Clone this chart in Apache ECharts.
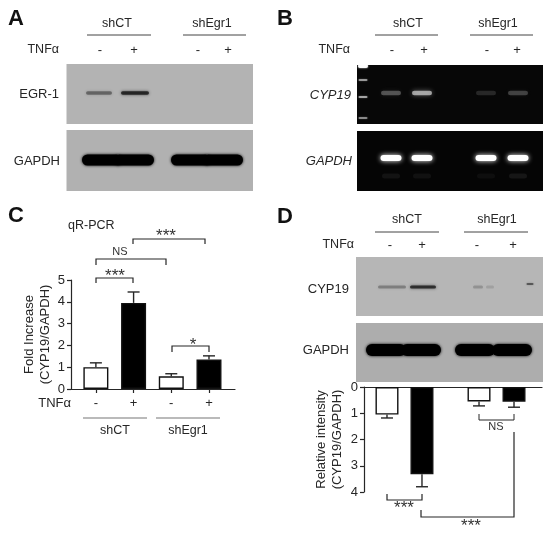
<!DOCTYPE html>
<html><head><meta charset="utf-8">
<style>html,body{margin:0;padding:0;background:#fff}#c{width:550px;height:536px}</style>
<script src="https://cdn.jsdelivr.net/npm/echarts@6/dist/echarts.min.js"></script>
</head><body><div id="c"></div>
<script>
// ---- data ----
const tnfSigns = ['-', '+', '-', '+'];
const groupNames = ['shCT', 'shEgr1'];
const qpcrMeans = [1.0, 3.95, 0.58, 1.35];
const qpcrErrTops = [1.2, 4.45, 0.7, 1.52];
const intensityMeans = [1.05, 3.32, 0.55, 0.56];
const intensityErrTops = [1.18, 3.8, 0.72, 0.77];
const barFills = ['#ffffff', '#000000', '#ffffff', '#000000'];
const qpcrSlots = [0, 1, 2, 3];
const intensitySlots = [0, 1, 2.63, 3.63];
// band strengths per lane (shCT -, shCT +, shEgr1 -, shEgr1 +)
const egr1Band = [0.42, 0.8, 0, 0];
const gapdhBandA = [1, 1, 1, 1];
const cyp19GelBand = [0.3, 0.62, 0.14, 0.24];
const gapdhGelBand = [1, 1, 1, 1];
const gapdhGelFaint = [0.06, 0.05, 0.04, 0.07];
const cyp19BlotBand = [0.3, 0.75, 0.2, 0.12];
const gapdhBandD = [1, 1, 1, 1];

// ---- layout ----
const INK = '#262626';
const FONT = '"Liberation Sans", Arial, sans-serif';
const panels = [
  {box:[66.5,64,253,124], bg:'#b3b3b3'},
  {box:[66.5,130,253,191], bg:'#b1b1b1'},
  {box:[357,65,543,124], bg:'#070707'},
  {box:[357,131,543,191], bg:'#050505'},
  {box:[356,257,543,316], bg:'#b6b6b6'},
  {box:[356,323,543,382], bg:'#adadad'}
];
const bandRows = [
  {values:egr1Band, y:93, h:3.5, rgb:'20,20,20', cx:[99,135,198,228], w:[26,28,26,26], blur:3},
  {values:gapdhBandA, y:160, h:11, rgb:'0,0,0', cx:[102,134,191,223], w:[40,40,40,40], blur:3},
  {values:cyp19GelBand, y:93, h:4.5, rgb:'235,235,235', cx:[391,422,486,518], w:[20,20,20,20], blur:5},
  {values:gapdhGelBand, y:158, h:6, rgb:'255,255,255', cx:[391,422,486,518], w:[21,21,21,21], blur:5},
  {values:gapdhGelFaint, y:176, h:5, rgb:'255,255,255', cx:[391,422,486,518], w:[18,18,18,18], blur:4},
  {values:cyp19BlotBand, y:287, h:3, rgb:'20,20,20', cx:[392,423,478,490], w:[28,26,10,8], blur:3},
  {values:gapdhBandD, y:350, h:12, rgb:'0,0,0', cx:[386,421,475,512], w:[40,40,40,40], blur:3}
];
const ladder = [[363,66,10,4,0.95],[363,80,9,2,0.5],[363,97,9,2,0.55],[363,118,9,2,0.45]];

const bandData = [];
bandRows.forEach(r => r.values.forEach((v, i) => {
  if (v > 0) bandData.push([r.cx[i], r.y, r.w[i], r.h, v, r.rgb, r.blur]);
}));
ladder.forEach(l => bandData.push([l[0], l[1], l[2], l[3], l[4], '255,255,255', 2]));
bandData.push([530, 284, 7, 2, 0.5, '20,20,20', 2]);

function text(t, x, y, o) {
  o = o || {};
  return {type:'text', x, y, z:5, rotation:o.rot||0, style:{text:t, fill:o.fill||INK,
    font:(o.style?o.style+' ':'')+(o.weight?o.weight+' ':'')+(o.size||12.5)+'px '+FONT,
    textAlign:o.align||'center', textVerticalAlign:'middle'}};
}
function path(pts, color, lw) {
  return {type:'polyline', z:5, shape:{points:pts}, style:{stroke:color||INK, lineWidth:lw||1.2, fill:null}};
}
const g = [];
[['A',8,19],['B',277,19],['C',8,216],['D',277,217]].forEach(p => g.push(text(p[0],p[1],p[2],{size:22,weight:'bold',align:'left',fill:'#111'})));
function header(o) {
  g.push(text(groupNames[0], o.c1, o.ty));
  g.push(text(groupNames[1], o.c2, o.ty));
  g.push(path([[o.l1[0],o.ly],[o.l1[1],o.ly]],'#444',1));
  g.push(path([[o.l2[0],o.ly],[o.l2[1],o.ly]],'#444',1));
  g.push(text('TNFα', o.tr, o.sy, {align:'right'}));
  tnfSigns.forEach((s,i) => g.push(text(s, o.sx[i], o.sy, {size:13})));
}
header({c1:117,c2:212,ty:24,ly:35,l1:[87,151],l2:[183,246],tr:59,sy:50,sx:[100,134,198,228]});
header({c1:408,c2:498,ty:24,ly:35,l1:[375,438],l2:[470,533],tr:350,sy:50,sx:[392,424,487,517]});
header({c1:407,c2:497,ty:220,ly:232,l1:[375,439],l2:[464,528],tr:354,sy:245,sx:[390,422,477,513]});
g.push(text('EGR-1',59,94,{align:'right',size:13}));
g.push(text('GAPDH',60,161,{align:'right',size:13}));
g.push(text('CYP19',351,95,{align:'right',size:13,style:'italic'}));
g.push(text('GAPDH',352,161,{align:'right',size:13,style:'italic'}));
g.push(text('CYP19',349,289,{align:'right',size:13}));
g.push(text('GAPDH',349,350,{align:'right',size:13}));
g.push(text('qR-PCR',68,226,{align:'left',size:12.5}));
g.push(text('TNFα',71,403,{align:'right',size:13}));
g.push(path([[83,418],[147,418]],'#777',1.2));
g.push(path([[156,418],[220,418]],'#777',1.2));
g.push(text(groupNames[0],115,431));
g.push(text(groupNames[1],188,431));
// significance brackets
[[133,205,239,244],[96,166,259,265],[96,133,278,283],[172,209,346,352]].forEach(b =>
  g.push(path([[b[0],b[3]],[b[0],b[2]],[b[1],b[2]],[b[1],b[3]]],INK,1.2)));
g.push(path([[479,414],[479,420],[514,420],[514,414]],INK,1));
g.push(path([[387,494],[387,500],[422,500],[422,494]],INK,1.2));
g.push(path([[421,510],[421,517],[514,517],[514,432]],INK,1.2));
[['***',166,236],['NS',120,252],['***',115,276],['*',193,345],['NS',496,427],['***',404,508],['***',471,526]].forEach(s =>
  g.push(text(s[0],s[1],s[2],{size:s[0]==='NS'?11:17,fill:'#333'})));

function errorSeries(xi, yi, slots, means, tops) {
  return {
    type:'custom', xAxisIndex:xi, yAxisIndex:yi, clip:false, z:4,
    data:slots.map((s,i)=>[s, means[i], tops[i]]),
    renderItem(p, api) {
      const a = api.coord([api.value(0), api.value(1)]);
      const b = api.coord([api.value(0), api.value(2)]);
      const st = {stroke:INK, lineWidth:1.4};
      return {type:'group', children:[
        {type:'line', shape:{x1:a[0],y1:a[1],x2:b[0],y2:b[1]}, style:st},
        {type:'line', shape:{x1:a[0]-6,y1:b[1],x2:a[0]+6,y2:b[1]}, style:st}
      ]};
    }
  };
}
function barSeries(xi, yi, slots, means, width) {
  return {
    type:'bar', xAxisIndex:xi, yAxisIndex:yi, barWidth:width, z:3,
    data:slots.map((s,i)=>({value:[s, means[i]], itemStyle:{color:barFills[i], borderColor:'#111', borderWidth:1.4}}))
  };
}
const axisLbl = {color:INK, fontFamily:FONT, fontSize:13};
const axisLn = {show:true, onZero:false, lineStyle:{color:INK, width:1.2}};
const tickS = {show:true, length:4, lineStyle:{color:INK, width:1.2}};
const nameSt = {color:INK, fontFamily:FONT, fontSize:13, lineHeight:16};

const option = {
  animation:false, backgroundColor:'#fff',
  grid:[
    {left:71, top:280, width:164, height:109},
    {left:364, top:387, width:178, height:105},
    {left:0, top:0, width:550, height:536}
  ],
  xAxis:[
    {gridIndex:0, type:'value', min:-0.66, max:3.69, splitLine:{show:false}, axisLine:axisLn,
     axisTick:{...tickS, customValues:qpcrSlots},
     axisLabel:{...axisLbl, show:true, customValues:qpcrSlots, margin:8, formatter:v=>tnfSigns[Math.round(v)]}},
    {gridIndex:1, type:'value', min:-0.657, max:4.43, splitLine:{show:false}, axisLine:{...axisLn, onZero:true},
     axisTick:{show:false}, axisLabel:{show:false}},
    {gridIndex:2, type:'value', min:0, max:550, show:false}
  ],
  yAxis:[
    {gridIndex:0, type:'value', min:0, max:5, interval:1, splitLine:{show:false}, axisLine:axisLn, axisTick:tickS,
     axisLabel:{...axisLbl, margin:6}, name:'Fold Increase\n(CYP19/GAPDH)', nameLocation:'middle', nameGap:18, nameTextStyle:nameSt},
    {gridIndex:1, type:'value', min:0, max:4, interval:1, inverse:true, splitLine:{show:false}, axisLine:axisLn, axisTick:tickS,
     axisLabel:{...axisLbl, margin:6}, name:'Relative intensity\n(CYP19/GAPDH)', nameLocation:'middle', nameGap:19, nameTextStyle:nameSt},
    {gridIndex:2, type:'value', min:0, max:536, inverse:true, show:false}
  ],
  graphic:{elements:g},
  series:[
    barSeries(0,0,qpcrSlots,qpcrMeans,25),
    errorSeries(0,0,qpcrSlots,qpcrMeans,qpcrErrTops),
    barSeries(1,1,intensitySlots,intensityMeans,23),
    errorSeries(1,1,intensitySlots,intensityMeans,intensityErrTops),
    {type:'custom', xAxisIndex:2, yAxisIndex:2, z:1, silent:true,
     data:panels.map(p=>[...p.box, p.bg]),
     renderItem(p, api) {
       const a = api.coord([api.value(0),api.value(1)]), b = api.coord([api.value(2),api.value(3)]);
       return {type:'rect', shape:{x:a[0],y:a[1],width:b[0]-a[0],height:b[1]-a[1]}, style:{fill:panels[p.dataIndex].bg}};
     }},
    {type:'custom', xAxisIndex:2, yAxisIndex:2, z:2, silent:true,
     data:bandData,
     renderItem(p, api) {
       const d = bandData[p.dataIndex];
       const c = api.coord([d[0], d[1]]);
       const col = 'rgba('+d[5]+','+d[4]+')';
       return {type:'rect', shape:{x:c[0]-d[2]/2, y:c[1]-d[3]/2, width:d[2], height:d[3], r:d[3]/2},
         style:{fill:col, shadowColor:col, shadowBlur:d[6]}};
     }}
  ]
};
echarts.init(document.getElementById('c')).setOption(option);
</script></body></html>
